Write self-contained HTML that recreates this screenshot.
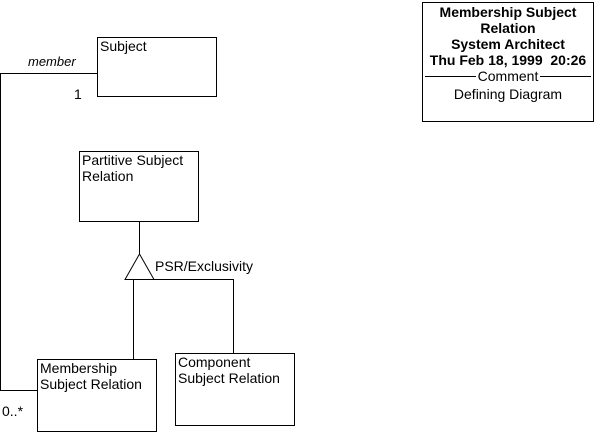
<!DOCTYPE html>
<html><head><style>
body{margin:0;width:598px;height:433px;background:#fff;position:relative;overflow:hidden;font-family:"Liberation Sans",Arial,sans-serif;font-size:14px;color:#000}
.b{position:absolute;border:1px solid #000;box-sizing:border-box;padding:0 2px;line-height:16px}
.t{position:absolute;line-height:16px;white-space:nowrap}
</style></head><body>
<svg width="598" height="433" style="position:absolute;left:0;top:0">
<g stroke="#000" stroke-width="1" fill="none" shape-rendering="crispEdges">
<polyline points="97,73.5 0.5,73.5 0.5,390.5 37,390.5"/>
<line x1="139.5" y1="221" x2="139.5" y2="254"/>
<polyline points="133.5,279 133.5,359"/>
<polyline points="153,279.5 233.5,279.5 233.5,353"/>
</g>
<polygon points="139.5,254 125,279.5 154,279.5" fill="#fff" stroke="#000"/>
</svg>
<div class="b" style="left:97px;top:37px;width:120px;height:60px">Subject</div>
<div class="b" style="left:79px;top:151px;width:120px;height:71px">Partitive Subject<br>Relation</div>
<div class="b" style="left:37px;top:359px;width:120px;height:73px">Membership<br>Subject Relation</div>
<div class="b" style="left:175px;top:353px;width:120px;height:73px">Component<br>Subject Relation</div>
<div class="t" style="left:28px;top:54px;font-style:italic;font-size:13px">member</div>
<div class="t" style="left:74px;top:86px">1</div>
<div class="t" style="left:2px;top:403px">0..*</div>
<div class="t" style="left:155px;top:258px">PSR/Exclusivity</div>
<div class="b" style="left:422px;top:2px;width:172px;height:120px;padding:0;text-align:center">
<div style="font-weight:bold;line-height:16px;margin-top:1px">Membership Subject<br>Relation<br>System Architect<br>Thu Feb 18, 1999&nbsp; 20:26</div>
<div style="display:flex;align-items:center;line-height:16px"><span style="flex:1;border-top:1px solid #000;margin:0 2px"></span>Comment<span style="flex:1;border-top:1px solid #000;margin:0 2px"></span></div>
<div style="line-height:20px">Defining Diagram</div>
</div>
</body></html>
